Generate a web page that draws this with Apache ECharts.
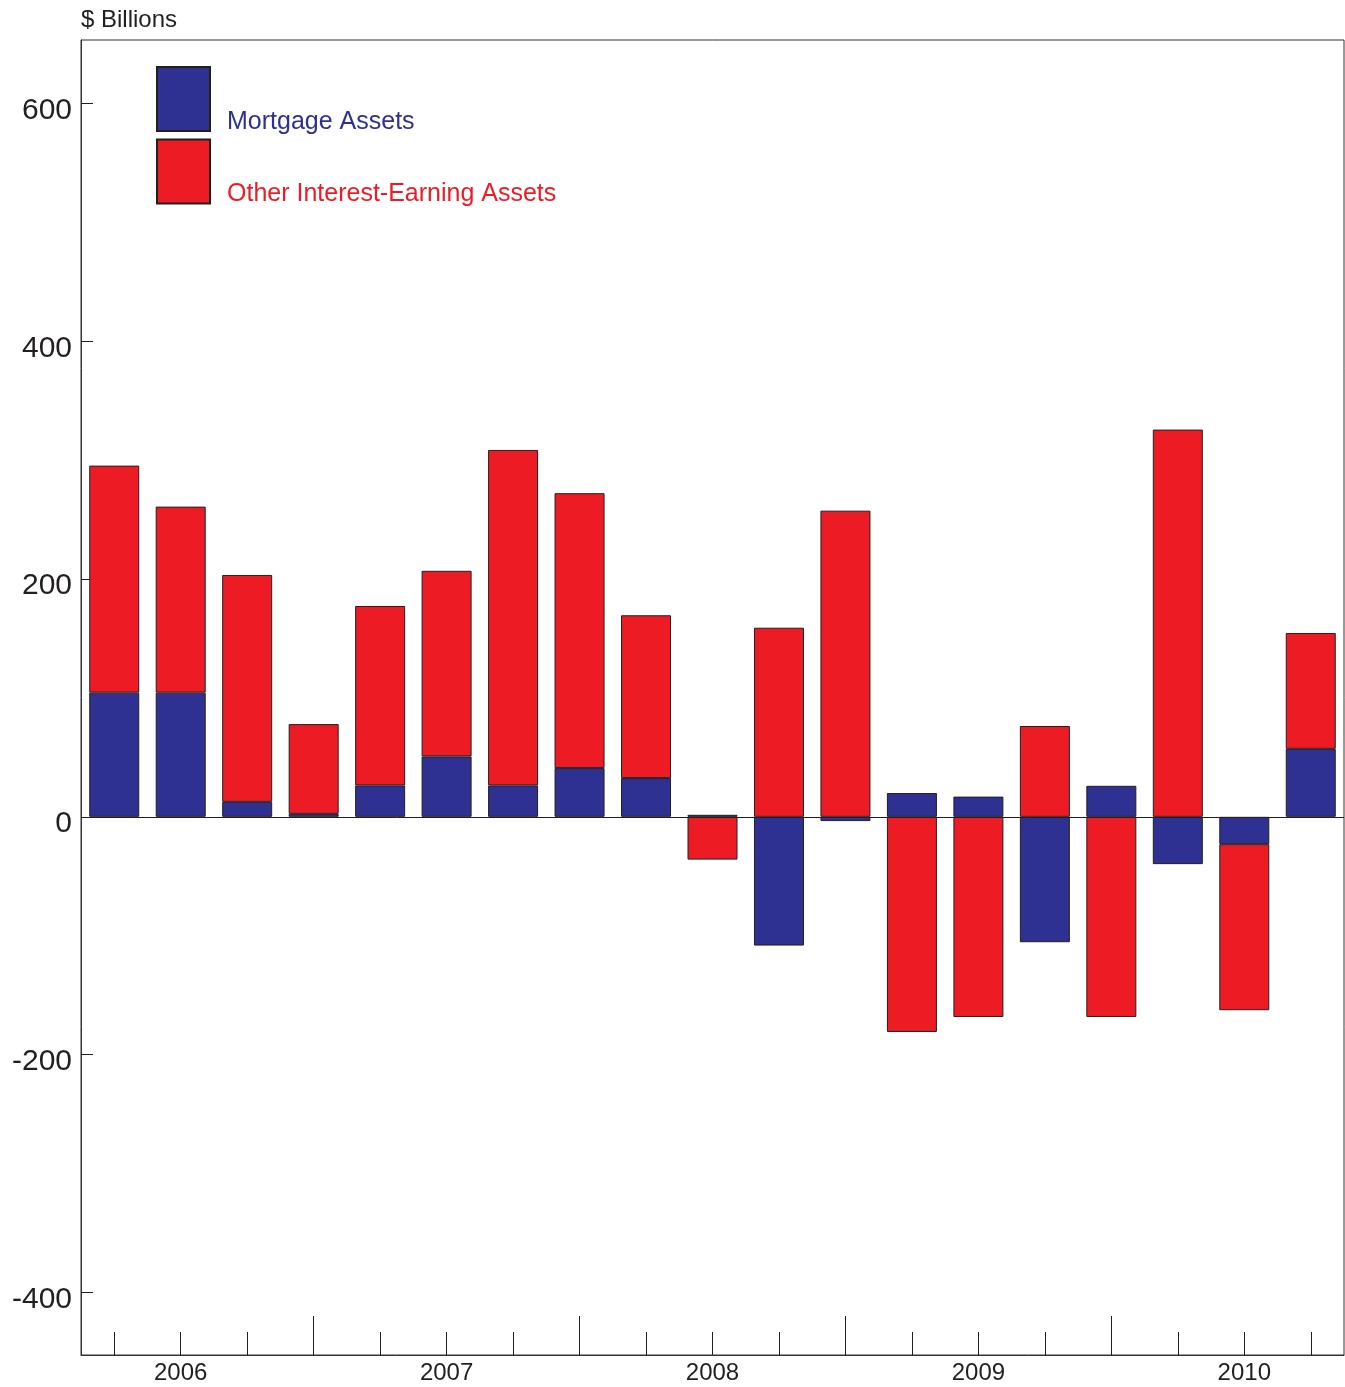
<!DOCTYPE html>
<html>
<head>
<meta charset="utf-8">
<script src="https://cdn.jsdelivr.net/npm/echarts@6/dist/echarts.min.js"></script>
<style>
html,body{margin:0;padding:0;background:#fff;}
#chart{width:1345px;height:1387px;}
</style>
</head>
<body>
<div id="chart"></div>
<script>
// Quarterly categories, 2006 Q1 – 2010 Q3
const years = ['2006', '2007', '2008', '2009', '2010'];
const quarters = ['Q1', 'Q2', 'Q3', 'Q4'];
const categories = [];
years.forEach(y => quarters.forEach(q => categories.push(y + ' ' + q)));
categories.length = 19;

// $ Billions
const mortgageAssets = [104.5, 104.5, 12.6, 2.5, 26.4, 50.8, 26.4, 41.0, 32.6, 1.7,
  -108.3, -3.6, 20.0, 17.0, -105.5, 26.1, -39.8, -23.0, 57.2];
const otherAssets = [191.0, 156.5, 190.9, 75.5, 151.0, 156.2, 282.3, 231.3, 137.0, -36.0,
  159.1, 257.6, -181.0, -168.4, 76.4, -168.4, 325.8, -139.7, 97.5];

const yTickLabels = [-400, -200, 0, 200, 400, 600];

const BLUE = '#2E3192';
const RED = '#ED1C24';
const INK = '#231F20';
const FONT = '"Liberation Sans", Arial, Helvetica, sans-serif';

const chart = echarts.init(document.getElementById('chart'), null, {renderer: 'canvas'});

chart.setOption({
  animation: false,
  backgroundColor: '#fff',
  textStyle: {fontFamily: FONT},
  title: {
    text: '$ Billions',
    left: 76,
    top: 3,
    textStyle: {fontFamily: FONT, fontSize: 24, fontWeight: 'normal', color: INK}
  },
  legend: {
    orient: 'vertical',
    left: 156,
    top: 66,
    padding: 0,
    icon: 'rect',
    itemWidth: 53,
    itemHeight: 64,
    itemGap: 4,
    selectedMode: false,
    data: [
      {name: 'Mortgage Assets', textStyle: {color: BLUE}},
      {name: 'Other Interest-Earning Assets', textStyle: {color: RED}}
    ],
    formatter: '{t|{name}}',
    textStyle: {
      fontFamily: FONT, fontSize: 25,
      rich: {t: {fontFamily: FONT, fontSize: 25, padding: [46, 0, 0, 12]}}
    }
  },
  grid: {
    left: 81, right: 1, top: 40, bottom: 32,
    show: true, borderColor: '#333', borderWidth: 1,
    containLabel: false
  },
  xAxis: [
    {
      type: 'category',
      data: categories,
      position: 'bottom',
      boundaryGap: true,
      axisLine: {show: true, onZero: false, lineStyle: {color: '#333', width: 1}},
      axisTick: {show: true, inside: true, length: 23, alignWithLabel: true, interval: 0,
        lineStyle: {color: INK, width: 1}},
      axisLabel: {
        interval: (i) => i % 4 === 1,
        formatter: (v) => v.slice(0, 4),
        fontFamily: FONT, fontSize: 24, color: INK, margin: 6
      },
      splitLine: {show: false}
    },
    {
      type: 'category',
      data: categories,
      position: 'bottom',
      boundaryGap: true,
      axisLine: {show: false, onZero: false},
      axisTick: {show: true, inside: true, length: 39, alignWithLabel: true,
        interval: (i) => i % 4 === 3,
        lineStyle: {color: INK, width: 1}},
      axisLabel: {show: false},
      splitLine: {show: false}
    }
  ],
  yAxis: {
    type: 'value',
    min: -452.8,
    max: 653.6,
    splitNumber: 5,
    minInterval: 200,
    maxInterval: 200,
    axisLine: {show: true, lineStyle: {color: '#333', width: 1}},
    axisTick: {show: true, inside: true, length: 12, lineStyle: {color: INK, width: 1}},
    axisLabel: {
      showMinLabel: false, showMaxLabel: false,
      formatter: (v) => (yTickLabels.indexOf(Math.round(v)) >= 0 && Math.abs(v - Math.round(v)) < 1e-6) ? '{v|' + Math.round(v) + '}' : '',
      fontFamily: FONT, fontSize: 30, color: INK, margin: 9,
      rich: {v: {fontFamily: FONT, fontSize: 30, color: INK, padding: [14, 0, 0, 0]}}
    },
    splitLine: {show: false}
  },
  series: [
    {
      name: 'Mortgage Assets',
      type: 'bar',
      stack: 'total',
      barWidth: 50,
      data: mortgageAssets,
      itemStyle: {color: BLUE, borderColor: INK, borderWidth: 1},
      markLine: {
        silent: true, symbol: 'none', label: {show: false},
        lineStyle: {color: INK, width: 1, type: 'solid'},
        data: [{yAxis: 0}]
      }
    },
    {
      name: 'Other Interest-Earning Assets',
      type: 'bar',
      stack: 'total',
      barWidth: 50,
      data: otherAssets,
      itemStyle: {color: RED, borderColor: INK, borderWidth: 1}
    }
  ]
});
</script>
</body>
</html>
